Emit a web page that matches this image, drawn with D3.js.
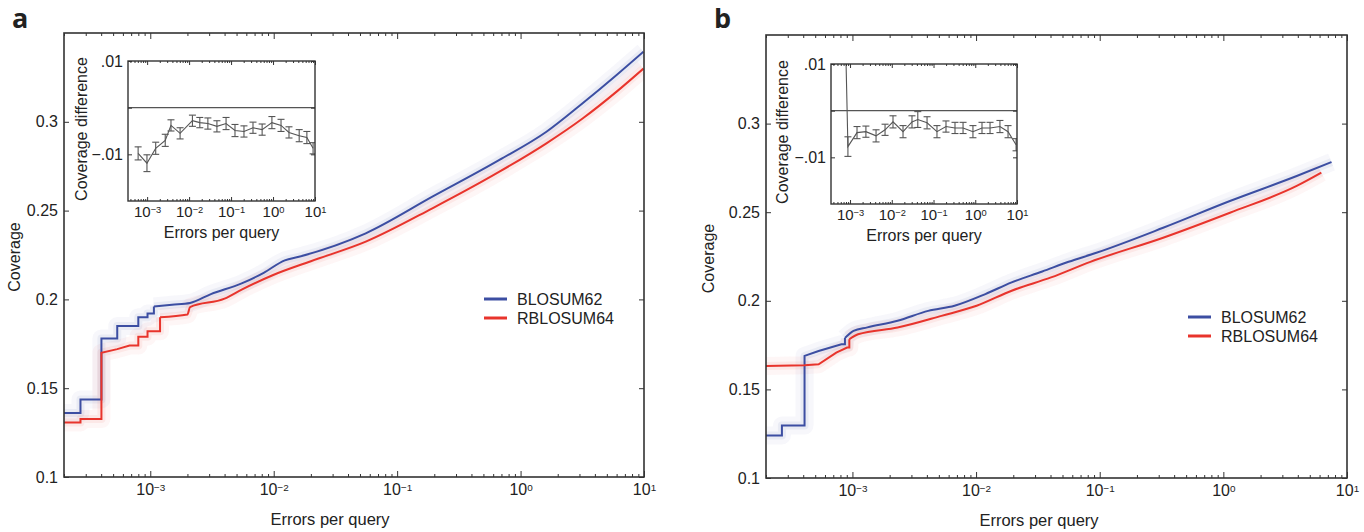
<!DOCTYPE html>
<html>
<head>
<meta charset="utf-8">
<script src="https://cdn.jsdelivr.net/npm/d3@7"></script>
<style>
  body { margin: 0; background: #fff; }
  text { font-family: "Liberation Sans", Arial, sans-serif; fill: #222; }
</style>
</head>
<body>
<svg id="chart" width="1364" height="532"></svg>
<script>
// ---- data ----
const xTicks = [1e-3, 1e-2, 1e-1, 1, 10];
const yTicks = [0.1, 0.15, 0.2, 0.25, 0.3];
const yTickLabels = ["0.1", "0.15", "0.2", "0.25", "0.3"];
const insetYTicks = [0.01, 0, -0.01];
const insetYLabels = [".01", "", "\u2212.01"];
const seriesNames = ["BLOSUM62", "RBLOSUM64"];
const seriesColors = ["#3c4ea2", "#e8342c"];

// panel a, main curves: [errors per query, coverage]
const aBlosum62 = [
  [2e-4, 0.136], [2.72e-4, 0.136], [2.72e-4, 0.1437], [4.02e-4, 0.1437], [4.02e-4, 0.178],
  [5.4e-4, 0.178], [5.4e-4, 0.185], [8.0e-4, 0.185], [8.0e-4, 0.190], [9.5e-4, 0.190],
  [9.5e-4, 0.192], [1.07e-3, 0.192], [1.07e-3, 0.196], [1.5e-3, 0.197], [2.1e-3, 0.198],
  [3.1e-3, 0.203], [5.5e-3, 0.209], [8.3e-3, 0.215], [1.23e-2, 0.222], [1.6e-2, 0.224],
  [5.57e-2, 0.2372], [0.193, 0.2578], [0.674, 0.2785], [1.62, 0.2944], [3.2, 0.3106],
  [6.0, 0.3264], [9.9, 0.3395]
];
const aRblosum64 = [
  [2e-4, 0.1307], [2.72e-4, 0.1307], [2.72e-4, 0.1326], [4.02e-4, 0.1326], [4.02e-4, 0.170],
  [5.4e-4, 0.172], [6.8e-4, 0.174], [8.0e-4, 0.174], [8.0e-4, 0.179], [9.5e-4, 0.179],
  [9.5e-4, 0.182], [1.2e-3, 0.182], [1.2e-3, 0.190], [2.0e-3, 0.1915], [2.1e-3, 0.1957],
  [4.0e-3, 0.2004], [5.5e-3, 0.2055], [9.8e-3, 0.2136], [2.0e-2, 0.2215], [5.57e-2, 0.2325],
  [0.193, 0.2513], [0.674, 0.2719], [1.62, 0.2879], [3.2, 0.302], [6.0, 0.317], [9.9, 0.330]
];
// panel b, main curves
const bBlosum62 = [
  [2e-4, 0.124], [2.69e-4, 0.124], [2.69e-4, 0.1296], [4.1e-4, 0.1296], [4.1e-4, 0.1689],
  [5.33e-4, 0.1717], [8.15e-4, 0.1755], [8.7e-4, 0.1755], [8.7e-4, 0.179], [1.02e-3, 0.183],
  [1.32e-3, 0.185], [2.32e-3, 0.1887], [4.1e-3, 0.1943], [6.7e-3, 0.1972], [1.19e-2, 0.2038],
  [1.94e-2, 0.2104], [3.43e-2, 0.2165], [5.6e-2, 0.222], [9.4e-2, 0.2271], [0.326, 0.2412],
  [1.13, 0.2563], [3.92, 0.2704], [7.5, 0.2783]
];
const bRblosum64 = [
  [2e-4, 0.1632], [4.1e-4, 0.1636], [5.33e-4, 0.1642], [7.4e-4, 0.1708], [9.06e-4, 0.1736],
  [9.44e-4, 0.1736], [9.44e-4, 0.1783], [1.11e-3, 0.1811], [2.32e-3, 0.1849], [5.25e-3, 0.1915],
  [1.01e-2, 0.1972], [1.94e-2, 0.2057], [4.04e-2, 0.2132], [8.4e-2, 0.222], [0.326, 0.2356],
  [1.13, 0.2497], [3.92, 0.2648], [6.2, 0.2723]
];

// insets: coverage difference with error bars
const aInsetX = [6.1e-4, 9.9e-4, 1.6e-3, 2.7e-3, 3.7e-3, 6.1e-3, 1.2e-2, 1.8e-2, 2.8e-2, 4.6e-2,
  7.6e-2, 0.124, 0.203, 0.333, 0.55, 0.94, 1.55, 2.4, 4.2, 6.4, 9.0];
const aInsetY = [-0.0098, -0.0119, -0.0087, -0.0070, -0.0038, -0.0055, -0.0028, -0.0032, -0.0034, -0.0040,
  -0.0034, -0.0049, -0.0051, -0.0043, -0.0047, -0.0032, -0.0038, -0.0053, -0.0060, -0.0064, -0.0087];
const aInsetErr = [0.0014, 0.0018, 0.0013, 0.0013, 0.0012, 0.0012, 0.0012, 0.0011, 0.0012, 0.0012,
  0.0013, 0.0013, 0.0012, 0.0012, 0.0012, 0.0013, 0.0013, 0.0012, 0.0013, 0.0013, 0.0012];

const bInsetX = [6.4e-4, 8.9e-4, 1.47e-3, 2.4e-3, 4.2e-3, 6.9e-3, 1.07e-2, 1.86e-2, 3.05e-2, 4.2e-2,
  7.0e-2, 0.121, 0.199, 0.327, 0.51, 0.88, 1.45, 2.26, 3.9, 6.1, 9.5];
const bInsetY = [0.05, -0.0077, -0.0047, -0.0045, -0.0054, -0.0041, -0.0024, -0.0045, -0.0024, -0.0019,
  -0.0026, -0.0045, -0.0034, -0.0037, -0.0037, -0.0045, -0.0037, -0.0037, -0.0034, -0.0045, -0.0073];
const bInsetErr = [0, 0.0021, 0.0013, 0.0012, 0.0013, 0.0012, 0.0013, 0.0013, 0.0013, 0.0017,
  0.0013, 0.0013, 0.0012, 0.0012, 0.0012, 0.0013, 0.0012, 0.0012, 0.0013, 0.0013, 0.0013];

// ---- drawing ----
const svg = d3.select("#chart");
const axisColor = "#333";

const isMajor = (t) => Math.abs(Math.log10(t) - Math.round(Math.log10(t))) < 1e-9;

// "10" with a superscript exponent
const powLabel = (text, d, size) => {
  const e = Math.round(Math.log10(d));
  text.text("10").attr("font-size", size);
  text.append("tspan")
    .attr("dy", "-0.42em")
    .attr("font-size", size * 0.62)
    .text(e < 0 ? "\u2212" + (-e) : e);
};

const styleAxis = (g) => {
  g.select(".domain").remove();
  g.selectAll(".tick line").attr("stroke", axisColor).attr("stroke-width", 1);
};

const drawLogXAxes = (g, x, top, bottom, major, minor, fs, pad) => {
  const minorTicks = x.ticks().filter((t) => !isMajor(t));
  const majorTicks = x.ticks().filter(isMajor);

  g.append("g").attr("transform", `translate(0,${bottom})`)
    .call(d3.axisBottom(x).tickValues(minorTicks).tickSize(-minor).tickFormat(""))
    .call(styleAxis);
  const bx = g.append("g").attr("transform", `translate(0,${bottom})`)
    .call(d3.axisBottom(x).tickValues(majorTicks).tickSize(-major).tickPadding(pad).tickFormat(""))
    .call(styleAxis);
  bx.selectAll(".tick text").each(function (d) { powLabel(d3.select(this), d, fs); });

  g.append("g").attr("transform", `translate(0,${top})`)
    .call(d3.axisTop(x).tickValues(minorTicks).tickSize(-minor).tickFormat(""))
    .call(styleAxis);
  g.append("g").attr("transform", `translate(0,${top})`)
    .call(d3.axisTop(x).tickValues(majorTicks).tickSize(-major).tickFormat(""))
    .call(styleAxis);
};

// steps drawn straight, the rest smoothed
const curvePath = (s, x, y) => {
  let k = 0;
  s.forEach((d, i) => { if (i > 0 && d[0] === s[i - 1][0]) k = i; });
  const straight = d3.line().x((d) => x(d[0])).y((d) => y(d[1]));
  const smooth = d3.line().curve(d3.curveMonotoneX).x((d) => x(d[0])).y((d) => y(d[1]));
  return straight(s.slice(0, k + 1)) + smooth(s.slice(k));
};

const drawPanel = (p) => {
  const g = svg.append("g");
  const x = d3.scaleLog().domain([2e-4, 10]).range([p.left, p.right]);
  const y = d3.scaleLinear().domain([0.1, 0.35]).range([p.bottom, p.top]);

  const clipId = "clip-" + p.name;
  g.append("clipPath").attr("id", clipId)
    .append("rect")
    .attr("x", p.left).attr("y", p.top)
    .attr("width", p.right - p.left).attr("height", p.bottom - p.top);

  const plot = g.append("g").attr("clip-path", `url(#${clipId})`);

  // faint spread of bootstrap curves behind each line
  p.series.forEach((s, i) => {
    const d = curvePath(s, x, y);
    plot.append("path").attr("d", d)
      .attr("fill", "none").attr("stroke", seriesColors[i])
      .attr("stroke-width", 18).attr("stroke-opacity", 0.045)
      .attr("stroke-linejoin", "round");
    plot.append("path").attr("d", d)
      .attr("fill", "none").attr("stroke", seriesColors[i])
      .attr("stroke-width", 8).attr("stroke-opacity", 0.07)
      .attr("stroke-linejoin", "round");
  });
  p.series.forEach((s, i) => {
    plot.append("path").attr("d", curvePath(s, x, y))
      .attr("fill", "none").attr("stroke", seriesColors[i])
      .attr("stroke-width", 2);
  });

  // axes
  drawLogXAxes(g, x, p.top, p.bottom, 6, 3, 16, 7);

  const ly = g.append("g").attr("transform", `translate(${p.left},0)`)
    .call(d3.axisLeft(y).tickValues(yTicks).tickSize(-5).tickPadding(6)
      .tickFormat((d, i) => yTickLabels[i]))
    .call(styleAxis);
  ly.selectAll(".tick text").attr("font-size", 16);
  g.append("g").attr("transform", `translate(${p.right},0)`)
    .call(d3.axisRight(y).tickValues(yTicks).tickSize(-5).tickFormat(""))
    .call(styleAxis);

  g.append("rect")
    .attr("x", p.left).attr("y", p.top)
    .attr("width", p.right - p.left).attr("height", p.bottom - p.top)
    .attr("fill", "none").attr("stroke", axisColor).attr("stroke-width", 1.6);

  // titles
  g.append("text")
    .attr("x", p.xTitleX).attr("y", p.bottom + 48)
    .attr("text-anchor", "middle").attr("font-size", 16.5)
    .text("Errors per query");
  g.append("text")
    .attr("transform", `translate(${p.yTitleX},${(p.top + p.bottom) / 2 + 2}) rotate(-90)`)
    .attr("text-anchor", "middle").attr("font-size", 16)
    .text("Coverage");
  g.append("text")
    .attr("x", p.labelX).attr("y", 28)
    .attr("font-size", 27).attr("font-weight", "bold")
    .style("font-family", "'Open Sans', 'DejaVu Sans', sans-serif")
    .text(p.name);

  // legend
  const leg = g.append("g").attr("transform", `translate(${p.legendX},${p.legendY})`);
  seriesNames.forEach((name, i) => {
    const row = leg.append("g").attr("transform", `translate(0,${i * 19})`);
    row.append("line").attr("x1", 0).attr("x2", 23)
      .attr("stroke", seriesColors[i]).attr("stroke-width", 3);
    row.append("text").attr("x", 33).attr("y", 6)
      .attr("font-size", 16).text(name);
  });

  drawInset(p.inset);
};

const drawInset = (q) => {
  const g = svg.append("g");
  const x = d3.scaleLog().domain([3.5e-4, 10]).range([q.left, q.right]);
  const y = d3.scaleLinear().domain([-0.02, 0.01]).range([q.bottom, q.top]);

  g.append("rect")
    .attr("x", q.left).attr("y", q.top)
    .attr("width", q.right - q.left).attr("height", q.bottom - q.top)
    .attr("fill", "#fff");

  const clipId = "clip-inset-" + q.name;
  g.append("clipPath").attr("id", clipId)
    .append("rect")
    .attr("x", q.left).attr("y", q.top)
    .attr("width", q.right - q.left).attr("height", q.bottom - q.top);
  const plot = g.append("g").attr("clip-path", `url(#${clipId})`);

  plot.append("line")
    .attr("x1", q.left).attr("x2", q.right)
    .attr("y1", y(0)).attr("y2", y(0))
    .attr("stroke", "#555").attr("stroke-width", 1.2);

  const pts = q.xs.map((v, i) => [v, q.ys[i], q.err[i]]);
  plot.append("path").datum(pts)
    .attr("d", d3.line().x((d) => x(d[0])).y((d) => y(d[1])))
    .attr("fill", "none").attr("stroke", "#555").attr("stroke-width", 1.1);

  const bars = plot.selectAll("g.err").data(pts.filter((d) => d[2] > 0))
    .join("g").attr("class", "err")
    .attr("stroke", "#555").attr("stroke-width", 1.1);
  bars.append("line")
    .attr("x1", (d) => x(d[0])).attr("x2", (d) => x(d[0]))
    .attr("y1", (d) => y(d[1] - d[2])).attr("y2", (d) => y(d[1] + d[2]));
  bars.append("line")
    .attr("x1", (d) => x(d[0]) - 3.5).attr("x2", (d) => x(d[0]) + 3.5)
    .attr("y1", (d) => y(d[1] - d[2])).attr("y2", (d) => y(d[1] - d[2]));
  bars.append("line")
    .attr("x1", (d) => x(d[0]) - 3.5).attr("x2", (d) => x(d[0]) + 3.5)
    .attr("y1", (d) => y(d[1] + d[2])).attr("y2", (d) => y(d[1] + d[2]));

  drawLogXAxes(g, x, q.top, q.bottom, 4, 2, 15, 5);

  const ly = g.append("g").attr("transform", `translate(${q.left},0)`)
    .call(d3.axisLeft(y).tickValues(insetYTicks).tickSize(-4).tickPadding(5)
      .tickFormat((d, i) => insetYLabels[i]))
    .call(styleAxis);
  ly.selectAll(".tick text").attr("font-size", 16);
  g.append("g").attr("transform", `translate(${q.right},0)`)
    .call(d3.axisRight(y).tickValues(insetYTicks).tickSize(-4).tickFormat(""))
    .call(styleAxis);

  g.append("rect")
    .attr("x", q.left).attr("y", q.top)
    .attr("width", q.right - q.left).attr("height", q.bottom - q.top)
    .attr("fill", "none").attr("stroke", axisColor).attr("stroke-width", 1.4);

  g.append("text")
    .attr("x", (q.left + q.right) / 2).attr("y", q.bottom + 37)
    .attr("text-anchor", "middle").attr("font-size", 16)
    .text("Errors per query");
  g.append("text")
    .attr("transform", `translate(${q.yTitleX},${(q.top + q.bottom) / 2 - 2}) rotate(-90)`)
    .attr("text-anchor", "middle").attr("font-size", 16)
    .text("Coverage difference");
};

drawPanel({
  name: "a", left: 64, right: 644, top: 33, bottom: 477,
  xTitleX: 330, yTitleX: 20, labelX: 12,
  legendX: 484, legendY: 299,
  series: [aBlosum62, aRblosum64],
  inset: { name: "a", left: 128, right: 315, top: 61, bottom: 201, yTitleX: 87,
    xs: aInsetX, ys: aInsetY, err: aInsetErr }
});

drawPanel({
  name: "b", left: 766, right: 1347, top: 35, bottom: 478,
  xTitleX: 1039, yTitleX: 714, labelX: 714,
  legendX: 1188, legendY: 317,
  series: [bBlosum62, bRblosum64],
  inset: { name: "b", left: 831, right: 1017, top: 64, bottom: 204, yTitleX: 788,
    xs: bInsetX, ys: bInsetY, err: bInsetErr }
});
</script>
</body>
</html>
